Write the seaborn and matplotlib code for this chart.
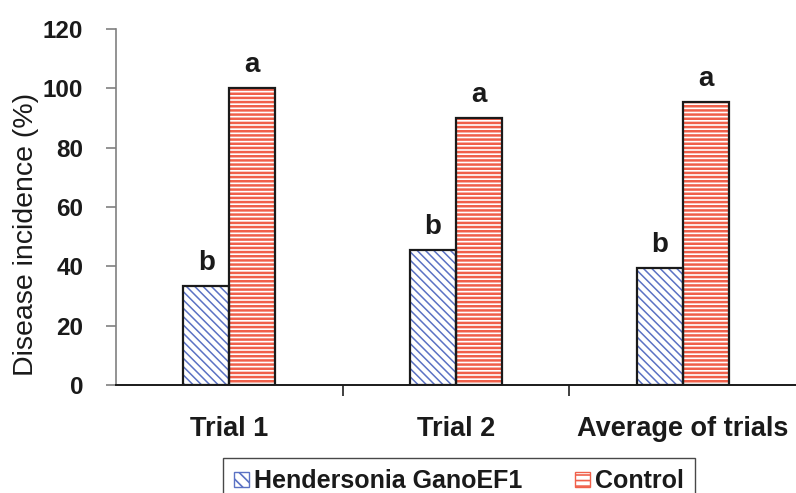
import matplotlib
matplotlib.use("Agg")
import matplotlib.pyplot as plt
import seaborn as sns
import pandas as pd
from matplotlib.patches import Rectangle, Patch

categories = ["Trial 1", "Trial 2", "Average of trials"]
series = ["Hendersonia GanoEF1", "Control"]
hendersonia = [33.3, 45.5, 39.4]
control = [100.0, 90.0, 95.3]
letters_h = ["b", "b", "b"]
letters_c = ["a", "a", "a"]
yticks = [0, 20, 40, 60, 80, 100, 120]

df = pd.DataFrame({
    "cat": categories * 2,
    "series": [series[0]] * 3 + [series[1]] * 3,
    "val": hendersonia + control,
})

sns.set_style("white")
plt.rcParams["font.family"] = ["Liberation Sans", "DejaVu Sans"]
plt.rcParams["hatch.linewidth"] = 1.2

blue = "#5b72c4"
red = "#f0604a"
ink = "#1a1a1a"

fig = plt.figure(figsize=(7.96, 4.93), dpi=100)
ax = fig.add_axes([116/796, 1 - 385/493, 680/796, (385 - 29)/493])

sns.barplot(data=df, x="cat", y="val", hue="series", order=categories,
            hue_order=series, palette=["white", "white"], width=0.405,
            ax=ax, legend=False, saturation=1, errorbar=None)

hatch_map = {0: ("\\\\\\\\", blue, 1.1), 1: ("----", red, 1.8)}
for i, cont in enumerate(ax.containers):
    h, c, hlw = hatch_map[i]
    letters = letters_h if i == 0 else letters_c
    for bar, lab in zip(cont, letters):
        bar.set_hatch(h)
        bar.set_edgecolor(c)
        bar.set_linewidth(0)
        if hasattr(bar, "set_hatch_linewidth"):
            bar.set_hatch_linewidth(hlw)
        ax.add_patch(Rectangle(bar.get_xy(), bar.get_width(), bar.get_height(),
                               fill=False, edgecolor=ink, linewidth=1.6, zorder=3))
        ax.text(bar.get_x() + bar.get_width() / 2, bar.get_height() + 3.5, lab,
                ha="center", va="bottom", fontsize=20, fontweight="bold", color=ink)

ax.set_xlim(-0.5, 2.5)
ax.set_ylim(0, 120)
ax.set_yticks(yticks)
ax.set_yticklabels([str(t) for t in yticks], fontsize=17.5, fontweight="bold", color=ink)
ax.set_xticks([0.5, 1.5])
ax.set_xticklabels(["", ""])
ax.tick_params(axis="y", direction="out", length=7.5, width=1.2, color="#808080", pad=16, left=True)
ax.tick_params(axis="x", direction="out", length=8, width=1.4, color="#404040", bottom=True)
for i, cat in enumerate(categories):
    ax.text(i, -10.3, cat, ha="center", va="top", fontsize=19.5, fontweight="bold",
            color=ink, clip_on=False)
ax.set_xlabel("")
ax.set_ylabel("Disease incidence (%)", fontsize=20.5, color=ink)
ax.yaxis.set_label_coords(-0.113, 0.424)

ax.spines["top"].set_visible(False)
ax.spines["right"].set_visible(False)
ax.spines["left"].set_color("#808080")
ax.spines["left"].set_linewidth(1.2)
ax.spines["bottom"].set_color(ink)
ax.spines["bottom"].set_linewidth(1.4)

handles = [Patch(facecolor="white", edgecolor=blue, hatch="\\\\\\", label=series[0]),
           Patch(facecolor="white", edgecolor=red, hatch="---", label=series[1])]
leg = fig.legend(handles=handles, loc="upper left",
                 bbox_to_anchor=(223/796, 1 - 458/493, 472/796, 0.0),
                 mode="expand", ncol=2, frameon=True, fancybox=False,
                 prop={"weight": "bold", "size": 18},
                 handlelength=0.6, handleheight=0.6, handletextpad=0.2,
                 borderpad=0.45, borderaxespad=0.0, edgecolor=ink)
leg.get_frame().set_linewidth(1.0)
for t in leg.get_texts():
    t.set_color(ink)

fig.savefig("out.png", dpi=100)
